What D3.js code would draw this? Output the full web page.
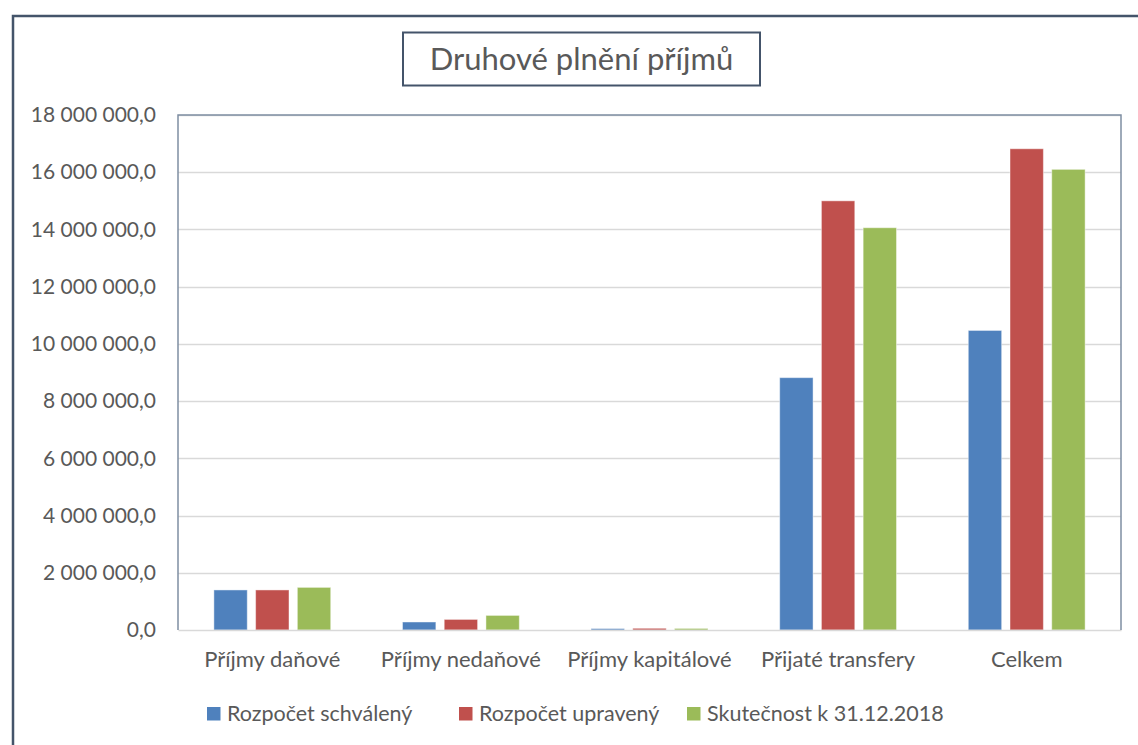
<!DOCTYPE html>
<html>
<head>
<meta charset="utf-8">
<script src="https://cdn.jsdelivr.net/npm/d3@7"></script>
<style>
  body { margin: 0; background: #fff; }
  text { font-family: Lato, "Open Sans", sans-serif; fill: #595959; }
</style>
</head>
<body>
<div id="chart"></div>
<script>
// data
const categories = ["Příjmy daňové", "Příjmy nedaňové", "Příjmy kapitálové", "Přijaté transfery", "Celkem"];
const seriesNames = ["Rozpočet schválený", "Rozpočet upravený", "Skutečnost k 31.12.2018"];
const schvaleny = [1400000, 280000, 50000, 8820000, 10470000];
const upraveny = [1400000, 370000, 60000, 15000000, 16820000];
const skutecnost = [1490000, 510000, 55000, 14060000, 16100000];
const yTicks = [0, 2000000, 4000000, 6000000, 8000000, 10000000, 12000000, 14000000, 16000000, 18000000];
const colors = ["#4f81bd", "#c0504d", "#9bbb59"];

const seriesValues = [schvaleny, upraveny, skutecnost];

var svgWidth = 1138;
var svgHeight = 745;

// plot area
var plot = { left: 178, top: 115, right: 1121, bottom: 630 };

var svg = d3.select("#chart")
  .append("svg")
  .attr("width", svgWidth)
  .attr("height", svgHeight);

// outer chart border (runs off the bottom/right edge)
svg.append("rect")
  .attr("x", 13)
  .attr("y", 16)
  .attr("width", 1200)
  .attr("height", 800)
  .attr("fill", "none")
  .attr("stroke", "#44546a")
  .attr("stroke-width", 2.5);

// title box
var titleG = svg.append("g");
titleG.append("rect")
  .attr("x", 403)
  .attr("y", 32.5)
  .attr("width", 357)
  .attr("height", 53)
  .attr("fill", "#fff")
  .attr("stroke", "#44546a")
  .attr("stroke-width", 2);
titleG.append("text")
  .attr("x", 581.5)
  .attr("y", 70)
  .attr("text-anchor", "middle")
  .attr("font-size", "31px")
  .text("Druhové plnění příjmů");

// scales
var x0 = d3.scaleBand()
  .domain(categories)
  .range([plot.left, plot.right]);

var x1 = d3.scaleBand()
  .domain(seriesNames)
  .range([0, x0.bandwidth()])
  .paddingInner(0.2)
  .paddingOuter(0.86);

var yScale = d3.scaleLinear()
  .domain([0, 18000000])
  .range([plot.bottom, plot.top]);

var cz = d3.formatLocale({ decimal: ",", thousands: " ", grouping: [3], currency: ["", " Kč"] });
var fmt = cz.format(",.1f");

// gridlines
svg.append("g")
  .selectAll("line")
  .data(yTicks.slice(1))
  .enter()
  .append("line")
  .attr("x1", plot.left)
  .attr("x2", plot.right)
  .attr("y1", d => Math.round(yScale(d)) + 0.5)
  .attr("y2", d => Math.round(yScale(d)) + 0.5)
  .attr("stroke", "#d9d9d9")
  .attr("stroke-width", 1.5);

// y axis labels
var yAxis = d3.axisLeft(yScale)
  .tickValues(yTicks)
  .tickSize(0)
  .tickPadding(22)
  .tickFormat(fmt);

var yG = svg.append("g")
  .attr("transform", `translate(${plot.left}, 0)`)
  .call(yAxis);
yG.select(".domain").remove();
yG.selectAll("text")
  .attr("font-size", "21px")
  .attr("font-family", null)
  .attr("fill", "#595959");

// bars
var groups = svg.append("g")
  .selectAll("g")
  .data(categories)
  .enter()
  .append("g")
  .attr("transform", d => `translate(${x0(d)}, 0)`);

groups.selectAll("rect")
  .data((c, i) => seriesNames.map((s, j) => ({ s: s, v: seriesValues[j][i], c: colors[j] })))
  .enter()
  .append("rect")
  .attr("x", d => x1(d.s))
  .attr("y", d => yScale(d.v))
  .attr("width", x1.bandwidth())
  .attr("height", d => plot.bottom - yScale(d.v))
  .attr("fill", d => d.c)
  .attr("stroke", "#ffffff")
  .attr("stroke-opacity", 0.45)
  .attr("stroke-width", 1);

// baseline axis
var xAxis = d3.axisBottom(x0)
  .tickSize(0)
  .tickPadding(21);

var xG = svg.append("g")
  .attr("transform", `translate(0, ${plot.bottom})`)
  .call(xAxis);
xG.select(".domain")
  .attr("stroke", "#d9d9d9")
  .attr("stroke-width", 1.5);
xG.selectAll("text")
  .attr("font-size", "22px")
  .attr("font-family", null)
  .attr("fill", "#595959");

// plot area border (top, left, right)
svg.append("path")
  .attr("d", `M${plot.left},${plot.bottom}V${plot.top}H${plot.right}V${plot.bottom}`)
  .attr("fill", "none")
  .attr("stroke", "#7f8ea3")
  .attr("stroke-width", 1.5);

// legend
var legendX = [207, 459, 687];
var legend = svg.append("g")
  .selectAll("g")
  .data(seriesNames)
  .enter()
  .append("g")
  .attr("transform", (d, i) => `translate(${legendX[i]}, 707)`);

legend.append("rect")
  .attr("width", 13.5)
  .attr("height", 13.5)
  .attr("fill", (d, i) => colors[i]);

legend.append("text")
  .attr("x", 20)
  .attr("y", 14)
  .attr("font-size", "21.5px")
  .text(d => d);
</script>
</body>
</html>
